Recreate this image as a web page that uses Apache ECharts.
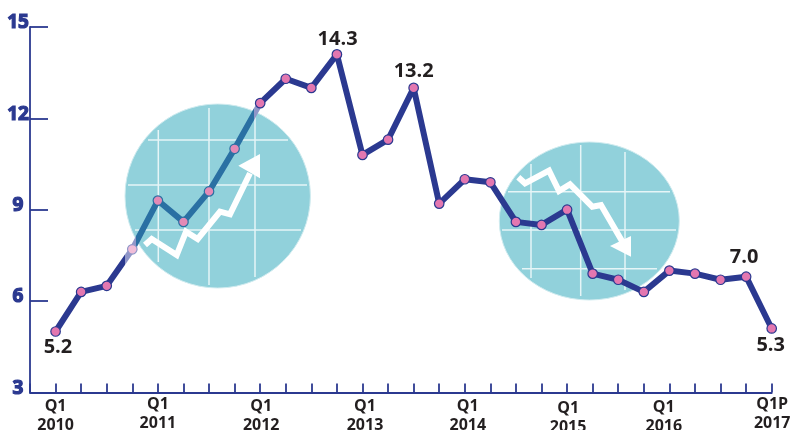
<!DOCTYPE html>
<html><head><meta charset="utf-8">
<style>html,body{margin:0;padding:0;background:#fff}#c{width:793px;height:430px}</style>
<script src="https://cdn.jsdelivr.net/npm/echarts@6/dist/echarts.min.js"></script>
</head><body><div id="c"></div>
<script>
const quarterLabels = {1:['Q1','2010'],5:['Q1','2011'],9:['Q1','2012'],13:['Q1','2013'],17:['Q1','2014'],21:['Q1','2015'],25:['Q1','2016'],29:['Q1P','2017']};
const labelShift = {1:[0,0],5:[0,-2],9:[1,0],13:[2.5,0],17:[3,0],21:[1,2],25:[-5.6,1],29:[0.5,-2]};
const values = [5.0,6.3,6.5,7.7,9.3,8.6,9.6,11.0,12.5,13.3,13.0,14.1,10.8,11.3,13.0,9.2,10.0,9.9,8.6,8.5,9.0,6.9,6.7,6.3,7.0,6.9,6.7,6.8,5.1];
const pointNotes = {0:'5.2',11:'14.3',14:'13.2',27:'7.0',28:'5.3'};
const noteShift = {0:[2.4,15.7],11:[0.7,-15],14:[0,-16.3],27:[-2,-19.3],28:[-1,17]};
const yTicks = [3,6,9,12,15];
const inCircle = [4,5,6,7];
const faded = [3];

const NAVY='#2b3990', INK='#231f20', TEAL='#91d1db', GRID='#e6f5f7', OVER='#2a70a3', LAV='#8f96c8';
const cats = [''].concat(values.map((_,i)=>String(i+1)));
const W=793;
const stop=(x,c)=>({offset:x/W,color:c});
const lineGradient={type:'linear',global:true,x:0,y:0,x2:W,y2:0,colorStops:[
  stop(0,NAVY),stop(125,NAVY),stop(125,LAV),stop(136,LAV),stop(136,OVER),
  stop(254,OVER),stop(254,LAV),stop(261,LAV),stop(261,NAVY),stop(W,NAVY)]};

const seriesData=[null].concat(values.map((v,i)=>{
  const d={value:v,itemStyle:{color:'#e377b0',borderColor:NAVY,borderWidth:1.2}};
  if(inCircle.includes(i)) d.itemStyle={color:'#e38ab6',borderColor:OVER,borderWidth:1.2};
  if(faded.includes(i)) d.itemStyle={color:'#f0bdd8',borderColor:LAV,borderWidth:1.2};
  if(pointNotes[i]) d.label={show:true,position:'inside',formatter:pointNotes[i],offset:noteShift[i],
    fontFamily:'Open Sans',fontWeight:700,fontSize:20,color:INK};
  return d;
}));

const rich={};
Object.keys(quarterLabels).forEach(k=>{
  const s=labelShift[k];
  rich['t'+k]={fontFamily:'Open Sans',fontWeight:700,fontSize:16,color:INK,lineHeight:19,
    padding:[Math.max(s[1],0)*2,s[0]<0?-2*s[0]:0,Math.max(-s[1],0)*2,s[0]>0?2*s[0]:0]};
});

function ellipse(cx,cy,rx,ry){return {type:'ellipse',z:1,silent:true,shape:{cx,cy,rx,ry},style:{fill:TEAL,stroke:'#d0ebef',lineWidth:1}};}
function seg(x1,y1,x2,y2){return {type:'line',z:1,silent:true,shape:{x1,y1,x2,y2},style:{stroke:GRID,lineWidth:1.5}};}
function arrow(pts,head){return [
  {type:'polyline',z:1,silent:true,shape:{points:pts},style:{stroke:'#fff',fill:null,lineWidth:6,lineJoin:'miter'}},
  {type:'polygon',z:1,silent:true,shape:{points:head},style:{fill:'#fff'}}];}

const decor=[
  ellipse(217.7,196,92.7,92),
  seg(158.3,130,158.3,262),seg(209,108,209,285),seg(255,112,255,277),
  seg(148,140,288,140),seg(128,185,307,185),seg(135,230,301,230),
  ...arrow([[145,245],[151.7,239],[176.7,255],[186,231.7],[197.7,239],[220,211.7],[230,214.3],[250,173.3]],[[238.3,165.7],[260,154],[260,178.3]]),
  ellipse(589.3,221,90,79),
  seg(531,164,531,278),seg(580.7,145,580.7,296),seg(625,152,625,290),
  seg(508,191.7,670,191.7),seg(502,230,676,230),seg(522,268.7,657,268.7),
  ...arrow([[518.3,177.3],[525,183.3],[549,170.7],[559,191],[570,184.3],[592.3,206.7],[601,205],[623.3,243.3]],[[610,246],[631,236],[631,256.7]])
];

const chart=echarts.init(document.getElementById('c'),null,{renderer:'canvas'});
chart.setOption({
  animation:false,
  grid:{left:30,top:27,width:741.7,height:365.4,containLabel:false,outerBoundsMode:'none'},
  graphic:{elements:decor},
  xAxis:{type:'category',data:cats,boundaryGap:false,
    axisLine:{lineStyle:{color:NAVY,width:1.8}},
    axisTick:{inside:true,length:9,interval:0,lineStyle:{color:NAVY,width:1.8}},
    axisLabel:{interval:0,margin:5,hideOverlap:false,showMinLabel:true,showMaxLabel:true,rich,
      formatter:(v,i)=>{const q=quarterLabels[i];return q?`{t${i}|${q[0]}}\n{t${i}|${q[1]}}`:'';}}},
  yAxis:{type:'value',min:yTicks[0],max:yTicks[yTicks.length-1],interval:3,
    splitLine:{show:false},
    axisLine:{show:true,lineStyle:{color:NAVY,width:1.8}},
    axisTick:{show:true,inside:true,length:18,lineStyle:{color:NAVY,width:1.8}},
    axisLabel:{margin:12,align:'center',formatter:'{a|{value}}',
      rich:{a:{padding:[0,0,8,0],fontFamily:'Open Sans',fontWeight:700,fontSize:19,color:NAVY,textBorderColor:NAVY,textBorderWidth:1.2}}}},
  series:[{type:'line',z:3,data:seriesData,connectNulls:false,symbol:'circle',symbolSize:9.5,showAllSymbol:true,
    lineStyle:{color:lineGradient,width:6,join:'round'},clip:false}]
});
</script></body></html>
